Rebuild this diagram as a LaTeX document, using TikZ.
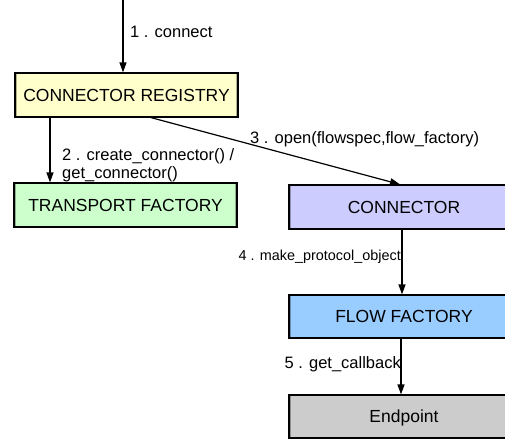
\documentclass[tikz,border=0pt]{standalone}
\usepackage{fontspec}
\setmainfont{Liberation Sans}
\usetikzlibrary{arrows.meta}

\definecolor{regfill}{HTML}{FFFFCC}
\definecolor{tffill}{HTML}{CCFFCC}
\definecolor{confill}{HTML}{CCCCFF}
\definecolor{fffill}{HTML}{99CCFF}
\definecolor{epfill}{HTML}{CCCCCC}

\tikzset{
  box/.style={draw=black, line width=1.2pt, fill=#1,
    minimum height=44pt, inner sep=0pt,
    font=\fontsize{17.5}{20}\selectfont,
    text height=12.5pt, text depth=0pt,
    path picture={\draw[#1!70!black, line width=0.7pt]
      ([shift={(1.3pt,1.3pt)}]path picture bounding box.north west) rectangle
      ([shift={(-1.3pt,-1.3pt)}]path picture bounding box.south east);}},
  lbl/.style={font=\fontsize{16.5}{19}\selectfont, inner sep=0pt},
  smalllbl/.style={font=\fontsize{14.4}{17}\selectfont, inner sep=0pt},
  flow/.style={line width=1.2pt, -{Triangle[length=10pt,width=7pt]}}
}

\begin{document}
\begin{tikzpicture}[x=1pt,y=-1pt]
  \useasboundingbox (0,0) rectangle (505,439);
  \clip (0,0) rectangle (505,439);

  % boxes
  \node[box=regfill, minimum width=223pt] (reg) at (126.5,95)    {CONNECTOR REGISTRY};
  \node[box=tffill,  minimum width=223pt] (tf)  at (125.5,205)   {TRANSPORT FACTORY};
  \node[box=confill, minimum width=230pt] (con) at (404,207)     {CONNECTOR};
  \node[box=fffill,  minimum width=230pt, minimum height=43pt] (ff) at (404,316.5) {FLOW FACTORY};
  \node[box=epfill,  minimum width=230pt, minimum height=43pt] (ep) at (404,416.5) {Endpoint};

  % incoming call
  \coordinate (start) at (123,0);
  \draw[flow] (start) -- (start |- reg.north);
  \node[lbl, anchor=base west] (l1) at (130,37) {1 . connect};

  % registry -> transport factory
  \draw[flow] ([xshift=-76.5pt]reg.south) -- ([xshift=-76.5pt]reg.south |- tf.north);
  \node[lbl, anchor=base west] (l2a) at (62,160) {2 . create\_connector() /};
  \node[lbl, anchor=base west] (l2b) at (62,178) {get\_connector()};

  % registry -> connector
  \draw[flow] ([xshift=24.5pt]reg.south) -- ([xshift=-4pt]con.north);
  \node[lbl, anchor=base west] (l3) at (250,143) {3 . open(flowspec,flow\_factory)};

  % connector -> flow factory
  \draw[flow] ([xshift=-2pt]con.south) -- ([xshift=-2pt]con.south |- ff.north);
  \node[smalllbl, anchor=base east] (l4) at (401,260) {4 . make\_protocol\_object};

  % flow factory -> endpoint
  \draw[flow] ([xshift=-3pt]ff.south) -- ([xshift=-3pt]ff.south |- ep.north);
  \node[lbl, anchor=base east] (l5) at (401,368) {5 . get\_callback};
\end{tikzpicture}
\end{document}
